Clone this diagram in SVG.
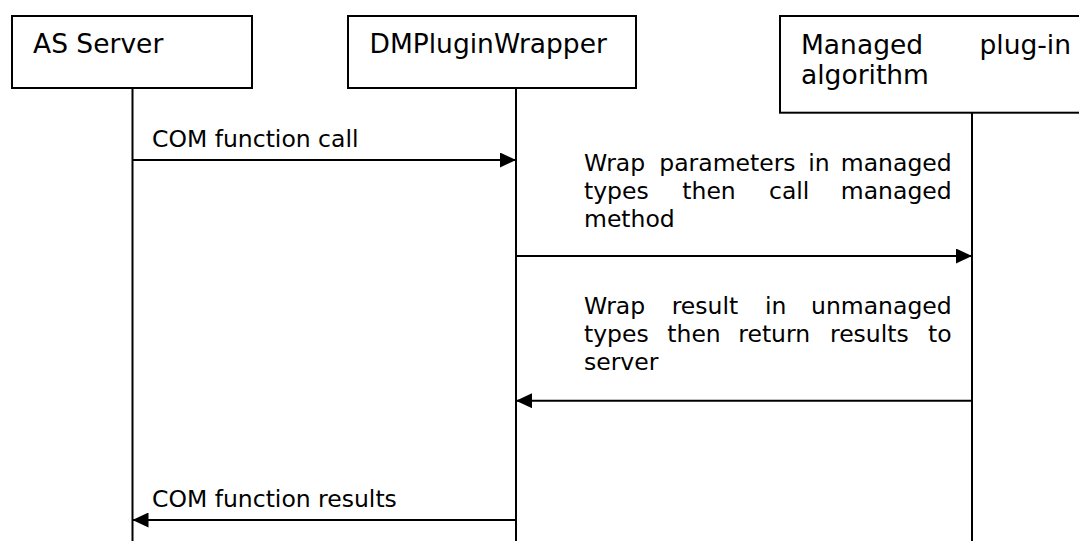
<svg xmlns="http://www.w3.org/2000/svg" width="1079" height="541" viewBox="0 0 1079 541">
<style>
.box{fill:#fff;stroke:#000;stroke-width:2}
.life{stroke:#000;stroke-width:2;fill:none}
.msg{stroke:#000;stroke-width:2;fill:none;marker-end:url(#arr)}
.nt{font-family:"DejaVu Sans","Verdana",sans-serif;font-size:26.5px;fill:#000}
.mt{font-family:"DejaVu Sans","Verdana",sans-serif;font-size:23.5px;fill:#000}
.e{text-anchor:end}
</style>
<defs>
<marker id="arr" markerWidth="16" markerHeight="15" refX="16" refY="7.5" orient="auto" markerUnits="userSpaceOnUse">
<path d="M0,0 L16,7.5 L0,15 Z" fill="#000"/>
</marker>
</defs>
<rect width="1079" height="541" fill="#fff"/>
<g id="as-server">
<rect class="box" x="12" y="16" width="240" height="72"/>
<text class="nt" x="33" y="53">AS Server</text>
<line class="life" x1="132.5" y1="88" x2="132.5" y2="541"/>
</g>
<g id="dmpluginwrapper">
<rect class="box" x="348" y="16" width="288" height="72"/>
<text class="nt" x="369.5" y="53">DMPluginWrapper</text>
<line class="life" x1="516" y1="88" x2="516" y2="541"/>
</g>
<g id="managed-plugin">
<rect class="box" x="780" y="16" width="320" height="96.7"/>
<text class="nt" x="801" y="53.5">Managed</text>
<text class="nt e" x="1071" y="53.5">plug-in</text>
<text class="nt" x="801" y="83.5">algorithm</text>
<line class="life" x1="972" y1="112.7" x2="972" y2="541"/>
</g>
<g id="connectors">
<line class="msg" x1="132.5" y1="160" x2="516" y2="160"/>
<line class="msg" x1="516" y1="256" x2="972" y2="256"/>
<line class="msg" x1="972" y1="400.7" x2="516" y2="400.7"/>
<line class="msg" x1="516" y1="520" x2="132.5" y2="520"/>
</g>
<g id="labels">
<text class="mt" x="152" y="147">COM function call</text>
<text class="mt" y="171"><tspan x="584">Wrap</tspan><tspan x="659.3">parameters</tspan><tspan x="808.3">in</tspan></text>
<text class="mt e" x="951.7" y="171">managed</text>
<text class="mt" y="199.3"><tspan x="584">types</tspan><tspan x="682.3">then</tspan><tspan x="769">call</tspan></text>
<text class="mt e" x="951.7" y="199.3">managed</text>
<text class="mt" x="584" y="227.3">method</text>
<text class="mt" y="314"><tspan x="584">Wrap</tspan><tspan x="671.7">result</tspan><tspan x="765">in</tspan></text>
<text class="mt e" x="951.7" y="314">unmanaged</text>
<text class="mt" y="341.7"><tspan x="584">types</tspan><tspan x="667.3">then</tspan><tspan x="738.3">return</tspan><tspan x="830">results</tspan></text>
<text class="mt e" x="951.7" y="341.7">to</text>
<text class="mt" x="584" y="370">server</text>
<text class="mt" x="152" y="507">COM function results</text>
</g>
</svg>
